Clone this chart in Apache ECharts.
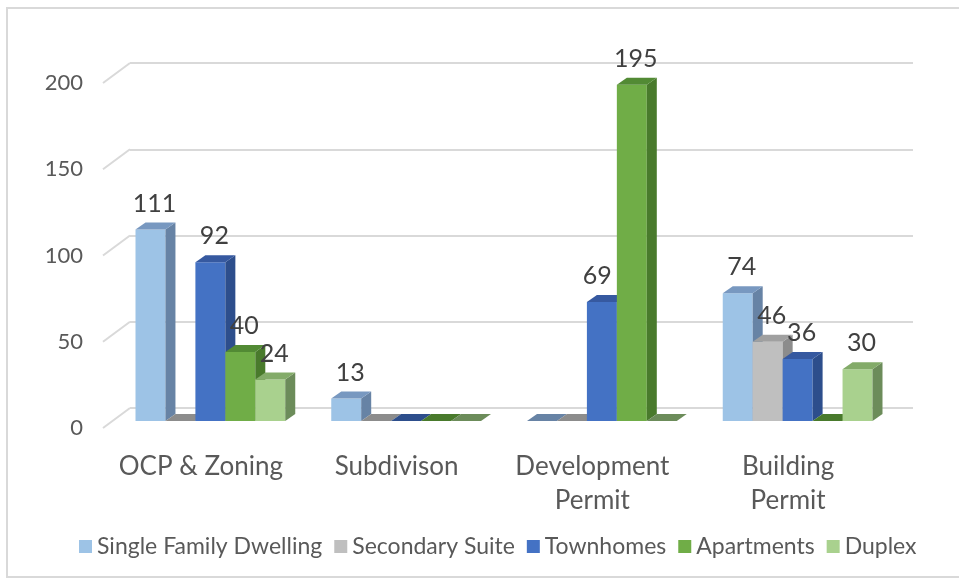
<!DOCTYPE html>
<html>
<head>
<meta charset="utf-8">
<script src="https://cdn.jsdelivr.net/npm/echarts/dist/echarts.min.js"></script>
<style>
  html, body { margin: 0; padding: 0; background: #ffffff; }
  #chart { width: 959px; height: 579px; }
</style>
</head>
<body>
<div id="chart"></div>
<script>
// Permit applications by stage and dwelling type
const categories = ['OCP & Zoning', 'Subdivison', 'Development Permit', 'Building Permit'];
const categoryLabels = ['OCP & Zoning', 'Subdivison', 'Development\nPermit', 'Building\nPermit'];
const seriesNames = ['Single Family Dwelling', 'Secondary Suite', 'Townhomes', 'Apartments', 'Duplex'];
const singleFamily = [111, 13, 0, 74];
const secondarySuite = [0, 0, 0, 46];
const townhomes = [92, 0, 69, 36];
const apartments = [40, 0, 195, 0];
const duplex = [24, 0, 0, 30];
const yTicks = [0, 50, 100, 150, 200];

const seriesValues = [singleFamily, secondarySuite, townhomes, apartments, duplex];

// face colours for the 3D columns: front, right side, top
const frontColors = ['#9dc3e6', '#bfbfbf', '#4472c4', '#70ad47', '#a9d18e'];
const sideColors  = ['#6783a5', '#8c8c8c', '#2d4e8c', '#497a2c', '#6c8c5a'];
const topColors   = ['#7898c0', '#a0a0a0', '#3659a0', '#528a34', '#83ab69'];

const FONT = 'Lato, "Liberation Sans", Arial, sans-serif';
const LABEL_SIZE = 25;
const DEPTH_X = 10, DEPTH_Y = 7;          // column depth
const WALL_X = 27, WALL_Y = 20;           // floor depth from front edge to back wall
const GAP = 0.235;                        // share of each category band left empty

function columnRenderer(sIdx) {
  return function (params, api) {
    const cat = api.value(0);
    const val = api.value(1);
    const base = api.coord([cat, 0]);
    const top = api.coord([cat, val]);
    const band = api.size([1, 0])[0];
    const bw = band * (1 - GAP) / seriesNames.length;
    const x0 = base[0] - bw * seriesNames.length / 2 + sIdx * bw;
    const x1 = x0 + bw;
    const yb = base[1];
    const yt = top[1];
    const children = [];
    if (yb - yt > 0.5) {
      children.push({
        type: 'rect',
        shape: { x: x0, y: yt, width: bw, height: yb - yt },
        style: { fill: frontColors[sIdx] }
      });
      children.push({
        type: 'polygon',
        shape: { points: [[x1, yt], [x1 + DEPTH_X, yt - DEPTH_Y], [x1 + DEPTH_X, yb - DEPTH_Y], [x1, yb]] },
        style: { fill: sideColors[sIdx] }
      });
    }
    children.push({
      type: 'polygon',
      shape: { points: [[x0, yt], [x1, yt], [x1 + DEPTH_X, yt - DEPTH_Y], [x0 + DEPTH_X, yt - DEPTH_Y]] },
      style: { fill: val > 0 ? topColors[sIdx] : sideColors[sIdx] }
    });
    if (val > 0) {
      const text = String(val);
      const halfW = text.length * LABEL_SIZE * 0.29;
      const ly = yt - 26;
      let lx = x0 + bw / 2 + 4;
      // keep the label clear of a taller neighbouring column
      if (sIdx + 1 < seriesNames.length) {
        const nextTop = api.coord([cat, seriesValues[sIdx + 1][cat]])[1] - DEPTH_Y;
        if (ly + LABEL_SIZE / 2 > nextTop) {
          lx = Math.min(lx, x1 - halfW - 5);
        }
      }
      children.push({
        type: 'text',
        style: {
          x: lx,
          y: ly,
          text: text,
          fill: '#404040',
          font: LABEL_SIZE + 'px ' + FONT,
          align: 'center',
          verticalAlign: 'middle'
        }
      });
    }
    return { type: 'group', children: children };
  };
}

const chart = echarts.init(document.getElementById('chart'), null, { renderer: 'canvas' });

const columnSeries = seriesNames.map(function (name, i) {
  return {
    name: name,
    type: 'custom',
    xAxisIndex: 0,
    yAxisIndex: 0,
    renderItem: columnRenderer(i),
    itemStyle: { color: frontColors[i] },
    data: seriesValues[i].map(function (v, c) { return [c, v]; }),
    z: 3
  };
});

chart.setOption({
  animation: false,
  backgroundColor: '#ffffff',
  color: frontColors,
  graphic: [{
    type: 'rect',
    silent: true,
    z: -10,
    shape: { x: 7, y: 8, width: 1000, height: 569 },
    style: { fill: 'none', stroke: '#d9d9d9', lineWidth: 2 }
  }],
  grid: [
    // plane the columns stand in
    { left: 112.5, right: 63.5, top: 76, bottom: 158 },
    // front edge of the floor: value and category labels
    { left: 103, right: 73, top: 83, bottom: 151 },
    // back wall: gridlines
    { left: 130, right: 46, top: 63, bottom: 171 }
  ],
  xAxis: [
    { gridIndex: 0, type: 'category', data: categories, show: false },
    {
      gridIndex: 1, type: 'category', data: categories,
      axisLine: { show: false }, axisTick: { show: false },
      axisLabel: {
        margin: 22,
        color: '#595959',
        fontFamily: FONT,
        fontSize: 26,
        lineHeight: 34,
        interval: 0,
        formatter: function (v, i) { return categoryLabels[i]; }
      }
    },
    { gridIndex: 2, type: 'category', data: categories, show: false }
  ],
  yAxis: [
    { gridIndex: 0, type: 'value', min: 0, max: 200, interval: 50, show: false },
    {
      gridIndex: 1, type: 'value', min: 0, max: 200, interval: 50,
      axisLine: { show: false }, axisTick: { show: false }, splitLine: { show: false },
      axisLabel: { margin: 20, color: '#595959', fontFamily: FONT, fontSize: 22 }
    },
    {
      gridIndex: 2, type: 'value', min: 0, max: 200, interval: 50,
      axisLine: { show: false }, axisTick: { show: false }, axisLabel: { show: false },
      splitLine: { show: true, lineStyle: { color: '#d9d9d9', width: 2 } }
    }
  ],
  legend: {
    data: seriesNames,
    left: 74,
    top: 530,
    icon: 'rect',
    itemWidth: 13,
    itemHeight: 13,
    itemGap: 12,
    textStyle: { color: '#595959', fontFamily: FONT, fontSize: 23 }
  },
  series: [
    {
      // floor-to-wall diagonals for each gridline
      type: 'custom',
      xAxisIndex: 1,
      yAxisIndex: 1,
      silent: true,
      z: 1,
      renderItem: function (params, api) {
        const left = params.coordSys.x;
        const y = api.coord([0, api.value(0)])[1];
        return {
          type: 'line',
          shape: { x1: left, y1: y, x2: left + WALL_X, y2: y - WALL_Y },
          style: { stroke: '#d9d9d9', lineWidth: 2 }
        };
      },
      data: yTicks.map(function (v) { return [v]; }),
      encode: { y: 0 }
    }
  ].concat(columnSeries)
});
</script>
</body>
</html>
